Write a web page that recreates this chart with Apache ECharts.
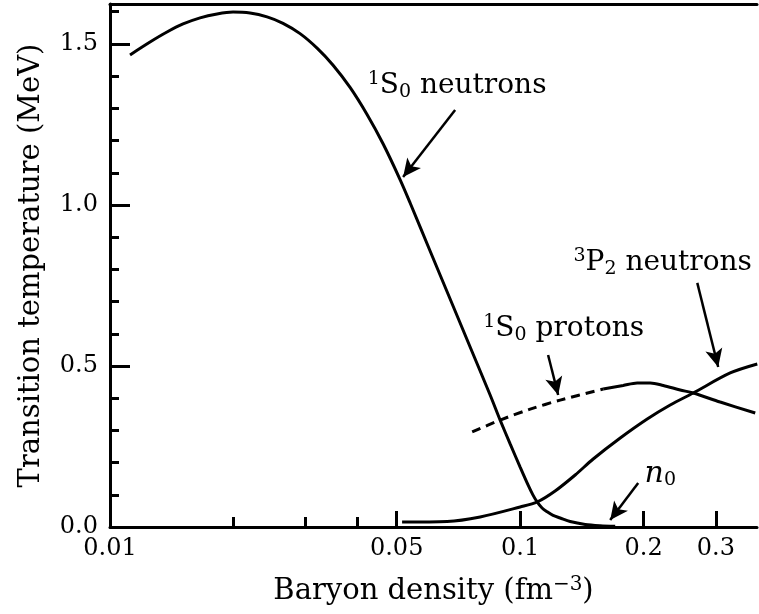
<!DOCTYPE html>
<html><head><meta charset="utf-8">
<script src="https://cdn.jsdelivr.net/npm/echarts@6/dist/echarts.min.js"></script>
<style>html,body{margin:0;padding:0;background:#fff}#c{width:759px;height:614px}</style>
</head><body><div id="c"></div>
<script>
const FONT = 'DejaVu Serif';
const FS_TICK = 24;
const FS_TITLE = 29;
const FS_ANNO = 28;

// 1S0 neutron gap
const n1S0X = [0.01119, 0.01252, 0.01377, 0.01507, 0.01658, 0.01824, 0.01995, 0.02195, 0.02415, 0.02642, 0.02907, 0.03198, 0.03499, 0.03849, 0.04234, 0.04632, 0.05096, 0.05390, 0.06032, 0.06750, 0.07552, 0.08450, 0.08938, 0.09454, 0.1, 0.1046, 0.1075, 0.1100, 0.1131, 0.1164, 0.1203, 0.1252, 0.1324, 0.1441, 0.1567, 0.1705];
const n1S0Y = [1.466, 1.506, 1.537, 1.562, 1.581, 1.593, 1.599, 1.596, 1.584, 1.564, 1.532, 1.487, 1.434, 1.365, 1.281, 1.190, 1.079, 1.007, 0.857, 0.708, 0.559, 0.410, 0.332, 0.258, 0.186, 0.130, 0.099, 0.078, 0.059, 0.047, 0.036, 0.028, 0.017, 0.008, 0.004, 0.002];
// 3P2 neutron gap
const n3P2X = [0.05154, 0.06637, 0.0799, 0.1, 0.11, 0.1217, 0.1362, 0.1507, 0.1754, 0.2041, 0.2322, 0.2642, 0.3252, 0.3786];
const n3P2Y = [0.0155, 0.0171, 0.0311, 0.0621, 0.0776, 0.1118, 0.1615, 0.2112, 0.2764, 0.3354, 0.3789, 0.4161, 0.4783, 0.5062];
// 1S0 proton gap (dashed part, then solid part)
const p1S0DashX = [0.0764, 0.08938, 0.1058, 0.1252, 0.1594];
const p1S0DashY = [0.295, 0.332, 0.366, 0.394, 0.4286];
const p1S0SolidX = [0.1594, 0.1783, 0.1929, 0.2076, 0.2233, 0.2456, 0.2642, 0.3074, 0.3743];
const p1S0SolidY = [0.4286, 0.4394, 0.4472, 0.4472, 0.4394, 0.4255, 0.4161, 0.388, 0.354];

// ticks
const xMajorTicks = [0.01, 0.05, 0.1, 0.2, 0.3];
const xMajorLabels = ['0.01', '0.05', '0.1', '0.2', '0.3'];
const xMinorTicks = [0.02, 0.03, 0.04];
const yMajorTicks = [0, 0.5, 1.0, 1.5];
const yMajorLabels = ['0.0', '0.5', '1.0', '1.5'];
const yMinorTicks = [0.1, 0.2, 0.3, 0.4, 0.6, 0.7, 0.8, 0.9, 1.1, 1.2, 1.3, 1.4, 1.6];

// annotations (anchored in data space)
const arrows = [
  [[0.06942, 1.295], [0.05183, 1.087]],
  [[0.1170, 0.534], [0.1238, 0.410]],
  [[0.2703, 0.758], [0.3040, 0.497]],
  [[0.1940, 0.137], [0.1658, 0.0217]]
];
const annoText = ['{sup|1}{m|S}{sub|0}{m| neutrons}', '{sup|1}{m|S}{sub|0}{m| protons}', '{sup|3}{m|P}{sub|2}{m| neutrons}', '{i|n}{sub|0}'];
const annoAt = [[0.0702, 1.37], [0.1277, 0.615], [0.2227, 0.82], [0.2196, 0.165]];

const zip = (a, b) => a.map((v, i) => [v, b[i]]);
const XMIN = 0.01, XMAX = 0.378, YMIN = 0, YMAX = 1.624;

const mkRich = fs => ({
  m: {fontFamily: FONT, fontSize: fs, lineHeight: 32, verticalAlign: 'middle', color: '#000'},
  i: {fontFamily: FONT, fontSize: fs + 2, fontStyle: 'italic', lineHeight: 32, verticalAlign: 'middle', color: '#000'},
  sup: {fontFamily: FONT, fontSize: Math.round(fs * 0.68), lineHeight: 14, verticalAlign: 'top', color: '#000'},
  sub: {fontFamily: FONT, fontSize: Math.round(fs * 0.68), lineHeight: 14, verticalAlign: 'bottom', color: '#000'}
});

const chart = echarts.init(document.getElementById('c'), null, {renderer: 'canvas'});
const blk = {color: '#000', width: 3};
const lineSeries = (name, data, type) => ({
  name, type: 'line', data, showSymbol: false, smooth: 0.3,
  lineStyle: {color: '#000', width: 3, type: type || 'solid', cap: 'butt'},
  silent: true, animation: false, z: 3
});

const s1 = lineSeries('1S0 n', zip(n1S0X, n1S0Y));
s1.markLine = {
  silent: true, animation: false, symbol: ['none', 'arrow'], symbolSize: [13, 18],
  label: {show: false}, lineStyle: {color: '#000', width: 2.5, type: 'solid'},
  data: arrows.map(a => [{coord: a[0]}, {coord: a[1]}])
};

chart.setOption({
  animation: false,
  backgroundColor: '#fff',
  grid: {left: 110, right: 2, top: 4, bottom: 87},
  xAxis: [
    {type: 'log', min: XMIN, max: XMAX, position: 'bottom',
     axisLine: {onZero: false, lineStyle: blk},
     axisTick: {inside: true, length: 16, customValues: xMajorTicks, lineStyle: blk},
     axisLabel: {customValues: xMajorTicks, margin: 10, color: '#000', fontFamily: FONT, fontSize: FS_TICK,
       formatter: v => { let k = 0, d = 1e9; xMajorTicks.forEach((t, i) => { const e = Math.abs(Math.log(t / v)); if (e < d) { d = e; k = i; } }); return xMajorLabels[k]; }},
     splitLine: {show: false}, minorTick: {show: false},
     name: '{m|Baryon density (fm}{sup|−3}{m|)}', nameLocation: 'middle', nameGap: 48,
     nameTextStyle: {rich: mkRich(FS_TITLE)}},
    {type: 'log', min: XMIN, max: XMAX, position: 'bottom',
     axisLine: {show: false},
     axisTick: {inside: true, length: 10, customValues: xMinorTicks, lineStyle: blk},
     axisLabel: {show: false}, splitLine: {show: false}},
    {type: 'log', min: XMIN, max: XMAX, position: 'top',
     axisLine: {show: true, onZero: false, lineStyle: blk},
     axisTick: {show: false}, axisLabel: {show: false}, splitLine: {show: false}}
  ],
  yAxis: [
    {type: 'value', min: YMIN, max: YMAX, position: 'left',
     axisLine: {show: true, onZero: false, lineStyle: blk},
     axisTick: {inside: true, length: 20, customValues: yMajorTicks, lineStyle: blk},
     axisLabel: {customValues: yMajorTicks, margin: 12, color: '#000', fontFamily: FONT, fontSize: FS_TICK,
       formatter: v => { let k = 0, d = 1e9; yMajorTicks.forEach((t, i) => { const e = Math.abs(t - v); if (e < d) { d = e; k = i; } }); return yMajorLabels[k]; }},
     splitLine: {show: false},
     name: 'Transition temperature (MeV)', nameLocation: 'middle', nameGap: 64, nameRotate: 90,
     nameTextStyle: {fontFamily: FONT, fontSize: FS_TITLE, color: '#000'}},
    {type: 'value', min: YMIN, max: YMAX, position: 'left',
     axisLine: {show: false},
     axisTick: {inside: true, length: 9, customValues: yMinorTicks, lineStyle: blk},
     axisLabel: {show: false}, splitLine: {show: false}}
  ],
  series: [
    s1,
    lineSeries('3P2 n', zip(n3P2X, n3P2Y)),
    lineSeries('1S0 p dashed', zip(p1S0DashX, p1S0DashY), [9, 6]),
    lineSeries('1S0 p', zip(p1S0SolidX, p1S0SolidY))
  ]
});

const annoRich = mkRich(FS_ANNO);
chart.setOption({
  graphic: annoText.map((t, i) => {
    const p = chart.convertToPixel({xAxisIndex: 0, yAxisIndex: 0}, annoAt[i]);
    return {type: 'text', x: p[0], y: p[1], silent: true, z: 10,
      style: {text: t, rich: annoRich, align: 'center', verticalAlign: 'middle', fill: '#000', fontFamily: FONT, fontSize: FS_ANNO}};
  })
});
</script></body></html>
